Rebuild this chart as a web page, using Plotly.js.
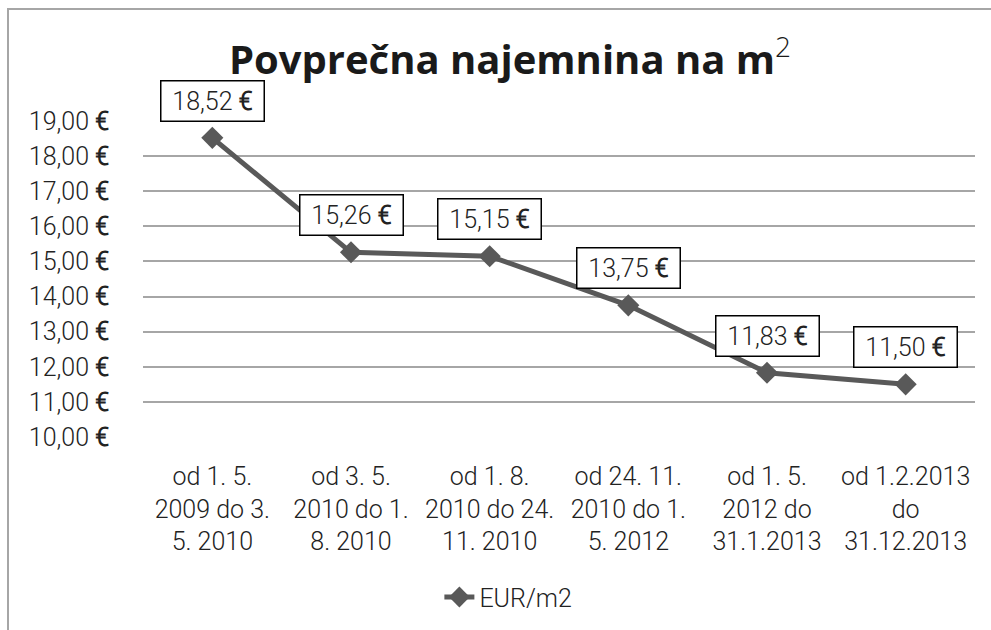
<!DOCTYPE html>
<html>
<head>
<meta charset="utf-8">
<script src="https://cdn.plot.ly/plotly-3.0.1.min.js"></script>
<style>
html,body{margin:0;padding:0;background:#fff;}
#wrap{position:relative;width:991px;height:630px;}
#chart{width:991px;height:630px;}
#frame{position:absolute;left:7px;top:8px;right:0;bottom:0;border-top:2px solid #a6a6a6;border-left:2px solid #a6a6a6;pointer-events:none;}
</style>
</head>
<body>
<div id="wrap"><div id="chart"></div><div id="frame"></div></div>
<script>
const categories = [
  "od 1. 5.<br>2009 do 3.<br>5. 2010",
  "od 3. 5.<br>2010 do 1.<br>8. 2010",
  "od 1. 8.<br>2010 do 24.<br>11. 2010",
  "od 24. 11.<br>2010 do 1.<br>5. 2012",
  "od 1. 5.<br>2012 do<br>31.1.2013",
  "od 1.2.2013<br>do<br>31.12.2013"
];
const values = [18.52, 15.26, 15.15, 13.75, 11.83, 11.50];
const seriesName = "EUR/m2";
const yTickVals = [10, 11, 12, 13, 14, 15, 16, 17, 18, 19];
const titleText = "<b>Povprečna najemnina na m</b><sup>2</sup>";

const fmt = v => v.toFixed(2).replace('.', ',') + " <b>€</b>";
const idx = categories.map((_, i) => i);
const lineColor = "#595959";
const fontFam = "'Roboto Light', Roboto, sans-serif";
const fsz = 25;

const trace = {
  x: idx, y: values, type: "scatter", mode: "lines+markers", name: seriesName,
  line: {color: lineColor, width: 5},
  marker: {symbol: "diamond", size: 17, color: lineColor},
  hoverinfo: "skip"
};

const annotations = values.map((v, i) => ({
  x: i, y: v, xref: "x", yref: "y", text: fmt(v), showarrow: false,
  yshift: 37, width: 92, height: 29, borderpad: 5,
  bordercolor: "#000", borderwidth: 1.5, bgcolor: "#fff",
  font: {family: fontFam, size: fsz, color: "#222", weight: 300}
}));

const layout = {
  width: 991, height: 630,
  margin: {l: 143, r: 16, t: 121, b: 193},
  paper_bgcolor: "#fff", plot_bgcolor: "#fff",
  font: {family: fontFam, size: fsz, color: "#222", weight: 300},
  title: {
    text: titleText, xref: "container", yref: "container",
    x: 0.5146, xanchor: "center", y: 0.905, yanchor: "middle",
    font: {family: "'Open Sans', sans-serif", size: 40, color: "#1a1a1a"}
  },
  xaxis: {
    range: [-0.5, 5.5], tickvals: idx, ticktext: categories,
    showgrid: false, zeroline: false, showline: false, ticks: "",
    ticklabelstandoff: 22,
    tickfont: {family: fontFam, size: fsz, color: "#222", weight: 300},
    fixedrange: true
  },
  yaxis: {
    range: [10, 19], tickvals: yTickVals, ticktext: yTickVals.map(fmt),
    showgrid: true, gridcolor: "#a6a6a6", gridwidth: 2,
    zeroline: false, showline: false, ticks: "", ticklabelstandoff: 33,
    tickfont: {family: fontFam, size: fsz, color: "#222", weight: 300},
    fixedrange: true
  },
  showlegend: true,
  legend: {
    orientation: "h", xref: "container", yref: "container",
    x: 0.513, xanchor: "center", y: 0.052, yanchor: "middle",
    font: {family: fontFam, size: fsz, color: "#222", weight: 300},
    bgcolor: "rgba(0,0,0,0)"
  },
  annotations: annotations
};

Plotly.newPlot("chart", [trace], layout, {displayModeBar: false, staticPlot: true});
</script>
</body>
</html>
